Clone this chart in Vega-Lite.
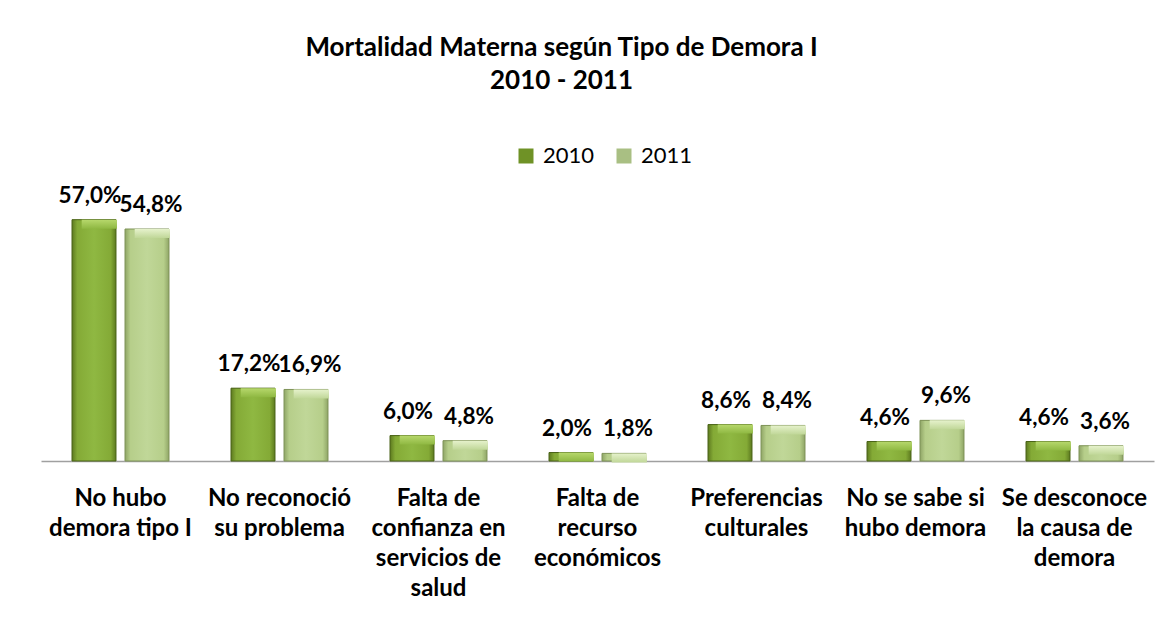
{
  "$schema": "https://vega.github.io/schema/vega-lite/v6.json",
  "autosize": "none",
  "width": 1113,
  "height": 254,
  "padding": {"left": 41, "top": 207, "right": 18, "bottom": 156},
  "background": "white",
  "title": {
    "text": ["Mortalidad Materna según Tipo de Demora I", "2010 - 2011"],
    "anchor": "middle",
    "frame": "group",
    "dx": -36,
    "offset": 51,
    "lineHeight": 33
  },
  "config": {
    "view": {"stroke": null},
    "font": "Lato",
    "locale": {"number": {"decimal": ",", "thousands": ".", "grouping": [3], "currency": ["", " €"]}},
    "title": {"font": "Lato", "fontSize": 26, "fontWeight": "bold", "color": "#000000"}
  },
  "data": {
    "values": [
      {"tipo": "No hubo|demora tipo I", "anio": "2010", "valor": 0.570},
      {"tipo": "No hubo|demora tipo I", "anio": "2011", "valor": 0.548},
      {"tipo": "No reconoció|su problema", "anio": "2010", "valor": 0.172},
      {"tipo": "No reconoció|su problema", "anio": "2011", "valor": 0.169},
      {"tipo": "Falta de|confianza en|servicios de|salud", "anio": "2010", "valor": 0.060},
      {"tipo": "Falta de|confianza en|servicios de|salud", "anio": "2011", "valor": 0.048},
      {"tipo": "Falta de|recurso|económicos", "anio": "2010", "valor": 0.020},
      {"tipo": "Falta de|recurso|económicos", "anio": "2011", "valor": 0.018},
      {"tipo": "Preferencias|culturales", "anio": "2010", "valor": 0.086},
      {"tipo": "Preferencias|culturales", "anio": "2011", "valor": 0.084},
      {"tipo": "No se sabe si|hubo demora", "anio": "2010", "valor": 0.046},
      {"tipo": "No se sabe si|hubo demora", "anio": "2011", "valor": 0.096},
      {"tipo": "Se desconoce|la causa de|demora", "anio": "2010", "valor": 0.046},
      {"tipo": "Se desconoce|la causa de|demora", "anio": "2011", "valor": 0.036}
    ]
  },
  "encoding": {
    "x": {
      "field": "tipo",
      "type": "nominal",
      "sort": null,
      "scale": {"paddingInner": 0.39, "paddingOuter": 0.195},
      "axis": {
        "title": null,
        "labelAngle": 0,
        "ticks": false,
        "domainColor": "#a0a0a0",
        "domainWidth": 1.5,
        "labelExpr": "split(datum.label, '|')",
        "labelFont": "Lato",
        "labelFontSize": 24,
        "labelFontWeight": "bold",
        "labelColor": "#000000",
        "labelLineHeight": 30,
        "labelPadding": 25,
        "labelBaseline": "top",
        "labelOverlap": false,
        "labelBound": false,
        "labelLimit": 0
      }
    },
    "xOffset": {"field": "anio", "type": "nominal", "scale": {"paddingInner": 0.17}},
    "y": {"field": "valor", "type": "quantitative", "scale": {"domain": [0, 0.6]}, "axis": null}
  },
  "layer": [
    {
      "mark": {"type": "bar", "stroke": null},
      "encoding": {
        "color": {
          "field": "anio",
          "type": "nominal",
          "scale": {"domain": ["2010", "2011"], "range": ["#6f9226", "#a9bf83"]},
          "legend": {
            "title": null,
            "orient": "none",
            "direction": "horizontal",
            "legendX": 474,
            "legendY": -62,
            "symbolType": "square",
            "symbolSize": 225,
            "symbolStrokeWidth": 0,
            "labelFont": "Lato",
            "labelFontSize": 22,
            "labelColor": "#000000",
            "labelOffset": 6,
            "columnPadding": 18
          }
        }
      }
    },
    {
      "transform": [{"filter": "datum.anio === '2010'"}],
      "mark": {
        "type": "bar",
        "stroke": "#4a6318",
        "strokeWidth": 1,
        "fill": {
          "gradient": "linear", "x1": 0, "y1": 0, "x2": 1, "y2": 0,
          "stops": [
            {"offset": 0, "color": "#5d7a1f"},
            {"offset": 0.12, "color": "#84aa36"},
            {"offset": 0.5, "color": "#8fb842"},
            {"offset": 0.88, "color": "#84aa36"},
            {"offset": 1, "color": "#5d7a1f"}
          ]
        }
      }
    },
    {
      "transform": [{"filter": "datum.anio === '2011'"}],
      "mark": {
        "type": "bar",
        "stroke": "#7f9358",
        "strokeWidth": 1,
        "fill": {
          "gradient": "linear", "x1": 0, "y1": 0, "x2": 1, "y2": 0,
          "stops": [
            {"offset": 0, "color": "#8fa566"},
            {"offset": 0.12, "color": "#b6ce8a"},
            {"offset": 0.5, "color": "#c0d798"},
            {"offset": 0.88, "color": "#b6ce8a"},
            {"offset": 1, "color": "#8fa566"}
          ]
        }
      }
    },
    {
      "transform": [{"filter": "datum.anio === '2010'"}],
      "mark": {
        "type": "bar",
        "y2Offset": 9,
        "stroke": null,
        "width": {"band": 0.8},
        "fill": {
          "gradient": "linear", "x1": 0, "y1": 0, "x2": 0, "y2": 1,
          "stops": [
            {"offset": 0, "color": "#b7d86c"},
            {"offset": 1, "color": "#8fb842"}
          ]
        }
      },
      "encoding": {"y2": {"field": "valor"}}
    },
    {
      "transform": [{"filter": "datum.anio === '2011'"}],
      "mark": {
        "type": "bar",
        "y2Offset": 9,
        "stroke": null,
        "width": {"band": 0.8},
        "fill": {
          "gradient": "linear", "x1": 0, "y1": 0, "x2": 0, "y2": 1,
          "stops": [
            {"offset": 0, "color": "#e6f2cc"},
            {"offset": 1, "color": "#c0d798"}
          ]
        }
      },
      "encoding": {"y2": {"field": "valor"}}
    },
    {
      "transform": [{"filter": "datum.anio === '2010'"}],
      "mark": {
        "type": "text",
        "font": "Lato",
        "fontSize": 22.5,
        "fontWeight": "bold",
        "color": "#000000",
        "baseline": "alphabetic",
        "dy": -17,
        "dx": -4
      },
      "encoding": {
        "text": {"field": "valor", "type": "quantitative", "format": ".1%"}
      }
    },
    {
      "transform": [{"filter": "datum.anio === '2011'"}],
      "mark": {
        "type": "text",
        "font": "Lato",
        "fontSize": 22.5,
        "fontWeight": "bold",
        "color": "#000000",
        "baseline": "alphabetic",
        "dy": -17,
        "dx": 4
      },
      "encoding": {
        "text": {"field": "valor", "type": "quantitative", "format": ".1%"}
      }
    }
  ]
}
